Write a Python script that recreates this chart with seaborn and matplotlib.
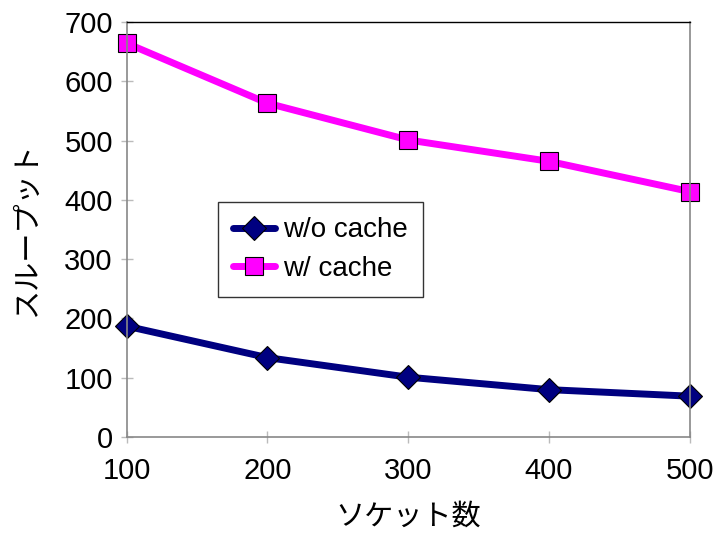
import matplotlib
matplotlib.use("Agg")
import matplotlib.pyplot as plt
import seaborn as sns
import pandas as pd

sockets = [100, 200, 300, 400, 500]
wo_cache = [187, 134, 101, 80, 69]
w_cache = [664, 563, 501, 465, 414]
series_names = ["w/o cache", "w/ cache"]
yticks = [0, 100, 200, 300, 400, 500, 600, 700]

df = pd.concat([
    pd.DataFrame({"x": sockets, "y": wo_cache, "s": series_names[0]}),
    pd.DataFrame({"x": sockets, "y": w_cache, "s": series_names[1]}),
])

sns.set_theme(style="white")
plt.rcParams['font.family'] = ['Liberation Sans', 'Noto Sans CJK JP', 'DejaVu Sans']
plt.rcParams['text.color'] = 'black'
plt.rcParams['xtick.labelcolor'] = 'black'
plt.rcParams['ytick.labelcolor'] = 'black'
plt.rcParams['axes.labelcolor'] = 'black'

fig = plt.figure(figsize=(7.2, 5.35), dpi=100)
ax = fig.add_axes([0.176, 0.183, 0.782, 0.776])

palette = {series_names[0]: "#000080", series_names[1]: "#FF00FF"}
sns.lineplot(data=df, x="x", y="y", hue="s", style="s", palette=palette,
             markers={series_names[0]: "D", series_names[1]: "s"},
             dashes=False, linewidth=5, markersize=13, markeredgecolor="black",
             markeredgewidth=0.8, ax=ax, legend=True)
for l in ax.lines:
    if l.get_marker() == "D":
        l.set_markersize(12)
    l.set_clip_on(False)

ax.set_xlim(100, 500)
ax.set_ylim(0, 700)
ax.set_xticks(sockets)
ax.set_yticks(yticks)
ax.tick_params(axis="both", labelsize=21, length=8, width=1, color="#bbbbbb",
               direction="inout", pad=6, left=True, bottom=True, labelcolor="black")
ax.tick_params(axis="x", pad=10)
for side in ["left", "bottom", "right"]:
    ax.spines[side].set_color("#888888")
    ax.spines[side].set_linewidth(1.2)
ax.spines["top"].set_color("black")
ax.spines["top"].set_linewidth(1)

ax.set_xlabel("ソケット数", fontsize=21, family=['Noto Sans CJK JP'], labelpad=12, color="black")
ax.set_ylabel("スループット", fontsize=21, family=['Noto Sans CJK JP'], labelpad=16, color="black")

leg = ax.legend(loc="upper left", bbox_to_anchor=(0.162, 0.566), fontsize=20,
                frameon=True, fancybox=False, edgecolor="black", handlelength=1.5,
                handletextpad=0.3, borderpad=0.55, labelspacing=0.45,
                borderaxespad=0)
leg.get_frame().set_linewidth(1)
for t in leg.get_texts():
    t.set_color("black")
for h in leg.get_lines():
    h.set_linewidth(5)

fig.savefig("out.png", dpi=100)
